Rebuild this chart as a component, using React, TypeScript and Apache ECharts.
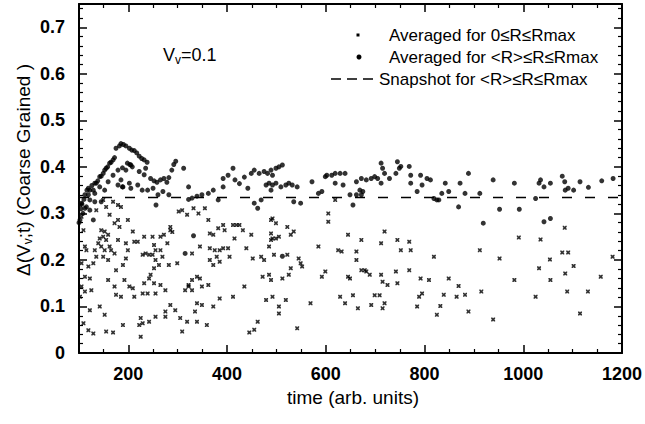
import React, { useEffect, useRef } from "react";
import * as echarts from "echarts";

// Averaged for 0≤R≤Rmax  [time, Δ]
const avgAllPoints: [number, number][] = [
  [102, 0.318], [105, 0.293], [109, 0.264], [112, 0.229], [115, 0.221], [105, 0.193], [119, 0.186],
  [112, 0.164], [122, 0.16], [105, 0.143], [125, 0.135], [102, 0.121], [112, 0.132], [122, 0.092],
  [109, 0.064], [119, 0.049], [129, 0.042], [142, 0.1], [152, 0.082], [155, 0.046], [169, 0.044],
  [189, 0.06], [145, 0.264], [152, 0.261], [142, 0.246], [149, 0.25], [159, 0.254], [155, 0.243],
  [139, 0.236], [145, 0.229], [152, 0.221], [162, 0.229], [165, 0.221], [132, 0.221], [135, 0.207],
  [129, 0.193], [149, 0.207], [159, 0.2], [172, 0.214], [179, 0.243], [182, 0.271], [179, 0.286],
  [162, 0.297], [172, 0.279], [185, 0.314], [199, 0.286], [209, 0.261], [212, 0.239], [219, 0.239],
  [195, 0.236], [199, 0.221], [195, 0.203], [189, 0.189], [175, 0.178], [192, 0.157], [159, 0.157],
  [172, 0.143], [175, 0.125], [185, 0.121], [202, 0.143], [209, 0.139], [212, 0.121], [232, 0.25],
  [249, 0.25], [265, 0.25], [272, 0.254], [252, 0.232], [255, 0.221], [265, 0.221], [229, 0.211],
  [235, 0.214], [242, 0.211], [249, 0.211], [255, 0.2], [262, 0.189], [269, 0.207], [279, 0.236],
  [285, 0.264], [285, 0.271], [289, 0.26], [282, 0.189], [299, 0.193], [252, 0.182], [245, 0.168],
  [242, 0.16], [232, 0.15], [252, 0.15], [265, 0.146], [275, 0.135], [255, 0.128], [239, 0.128],
  [229, 0.128], [225, 0.075], [222, 0.06], [229, 0.064], [242, 0.067], [225, 0.035], [255, 0.078],
  [275, 0.089], [275, 0.078], [285, 0.103], [295, 0.092], [305, 0.075], [309, 0.046], [319, 0.067],
  [335, 0.089], [322, 0.143], [329, 0.157], [339, 0.164], [345, 0.16], [349, 0.143], [362, 0.146],
  [322, 0.146], [315, 0.135], [329, 0.135], [339, 0.107], [349, 0.103], [372, 0.1], [339, 0.067],
  [359, 0.06], [385, 0.117], [412, 0.121], [302, 0.304], [309, 0.307], [319, 0.297], [332, 0.311],
  [342, 0.3], [355, 0.311], [362, 0.286], [365, 0.257], [372, 0.254], [382, 0.268], [392, 0.275],
  [395, 0.264], [412, 0.275], [419, 0.275], [425, 0.275], [432, 0.264], [345, 0.229], [365, 0.225],
  [375, 0.221], [385, 0.221], [392, 0.225], [402, 0.225], [405, 0.207], [379, 0.207], [365, 0.2],
  [385, 0.196], [372, 0.189], [329, 0.214], [415, 0.246], [439, 0.225], [435, 0.143], [445, 0.044],
  [149, 0.329], [169, 0.325], [179, 0.318], [135, 0.307], [155, 0.314], [455, 0.05], [462, 0.067],
  [449, 0.254], [452, 0.203], [469, 0.207], [475, 0.2], [472, 0.164], [485, 0.168], [489, 0.157],
  [479, 0.114], [492, 0.121], [485, 0.229], [489, 0.243], [492, 0.246], [499, 0.246], [505, 0.25],
  [489, 0.257], [489, 0.286], [492, 0.289], [499, 0.279], [495, 0.211], [505, 0.1], [505, 0.085],
  [512, 0.16], [519, 0.114], [522, 0.211], [522, 0.271], [525, 0.168], [529, 0.182], [529, 0.254],
  [535, 0.261], [545, 0.203], [549, 0.193], [552, 0.186], [542, 0.053], [569, 0.107], [585, 0.229],
  [592, 0.164], [599, 0.175], [605, 0.3], [605, 0.282], [625, 0.221], [632, 0.218], [629, 0.121],
  [639, 0.107], [645, 0.164], [649, 0.16], [645, 0.254], [655, 0.124], [662, 0.218], [662, 0.2],
  [672, 0.243], [665, 0.096], [672, 0.178], [679, 0.178], [682, 0.175], [689, 0.168], [692, 0.103],
  [699, 0.124], [709, 0.124], [712, 0.168], [715, 0.153], [719, 0.107], [715, 0.096], [719, 0.261],
  [712, 0.236], [725, 0.146], [742, 0.175], [745, 0.243], [752, 0.221], [769, 0.239], [772, 0.221],
  [769, 0.178], [745, 0.15], [785, 0.1], [789, 0.121], [795, 0.128], [792, 0.16], [809, 0.157],
  [619, 0.329], [819, 0.207], [849, 0.16], [839, 0.125], [832, 0.101], [825, 0.082], [869, 0.144],
  [865, 0.121], [882, 0.125], [889, 0.089], [912, 0.221], [915, 0.132], [939, 0.072], [952, 0.203],
  [982, 0.157], [991, 0.248], [1025, 0.121], [1032, 0.182], [1035, 0.244], [1054, 0.201],
  [1055, 0.157], [1079, 0.216], [1084, 0.269], [1085, 0.171], [1089, 0.132], [1091, 0.216],
  [1102, 0.187], [1115, 0.085], [1131, 0.132], [1157, 0.164], [1181, 0.207],
];

// Averaged for <R>≤R≤Rmax  [time, Δ]
const avgOuterPoints: [number, number][] = [
  [100, 0.28], [102, 0.286], [104, 0.31], [106, 0.32], [108, 0.3], [110, 0.33], [112, 0.34],
  [115, 0.314], [116, 0.35], [119, 0.34], [122, 0.329], [122, 0.35], [126, 0.36], [129, 0.35],
  [132, 0.365], [135, 0.365], [138, 0.37], [142, 0.379], [145, 0.38], [149, 0.386], [152, 0.393],
  [155, 0.397], [158, 0.4], [162, 0.408], [165, 0.41], [169, 0.415], [172, 0.42], [175, 0.44],
  [182, 0.445], [185, 0.45], [190, 0.448], [195, 0.445], [202, 0.44], [207, 0.436], [212, 0.435],
  [217, 0.43], [222, 0.423], [227, 0.418], [232, 0.415], [238, 0.41], [119, 0.354], [132, 0.343],
  [142, 0.357], [152, 0.35], [159, 0.368], [169, 0.382], [179, 0.393], [185, 0.372], [195, 0.393],
  [205, 0.404], [179, 0.361], [189, 0.357], [202, 0.365], [219, 0.361], [105, 0.322], [112, 0.311],
  [132, 0.325], [145, 0.325], [129, 0.286], [122, 0.307], [188, 0.398], [198, 0.408], [203, 0.405],
  [208, 0.4], [222, 0.39], [235, 0.397], [232, 0.383], [245, 0.375], [252, 0.37], [258, 0.367],
  [265, 0.372], [272, 0.375], [278, 0.367], [282, 0.377], [288, 0.393], [292, 0.405], [296, 0.412],
  [312, 0.397], [188, 0.357], [205, 0.354], [228, 0.35], [239, 0.35], [250, 0.354], [260, 0.34],
  [270, 0.347], [282, 0.34], [256, 0.318], [322, 0.357], [322, 0.33], [329, 0.333], [339, 0.337],
  [349, 0.34], [362, 0.343], [372, 0.35], [382, 0.329], [392, 0.357], [392, 0.375], [402, 0.382],
  [412, 0.397], [416, 0.372], [425, 0.364], [435, 0.378], [442, 0.354], [315, 0.214], [332, 0.252],
  [512, 0.208], [449, 0.386], [455, 0.393], [465, 0.386], [475, 0.39], [482, 0.386], [489, 0.393],
  [492, 0.382], [499, 0.397], [505, 0.4], [512, 0.404], [479, 0.361], [485, 0.365], [492, 0.361],
  [499, 0.365], [489, 0.35], [509, 0.357], [519, 0.361], [525, 0.365], [532, 0.361], [542, 0.357],
  [455, 0.322], [462, 0.311], [469, 0.329], [535, 0.325], [549, 0.322], [572, 0.368], [599, 0.379],
  [602, 0.382], [612, 0.382], [619, 0.386], [629, 0.386], [639, 0.386], [619, 0.365], [635, 0.361],
  [592, 0.347], [585, 0.343], [649, 0.34], [655, 0.318], [662, 0.368], [672, 0.375], [669, 0.35],
  [675, 0.347], [682, 0.372], [692, 0.375], [699, 0.379], [705, 0.375], [712, 0.408], [715, 0.397],
  [719, 0.386], [729, 0.375], [745, 0.411], [749, 0.397], [752, 0.401], [742, 0.386], [769, 0.401],
  [772, 0.382], [772, 0.365], [792, 0.382], [795, 0.361], [805, 0.375], [785, 0.347], [712, 0.365],
  [662, 0.34], [672, 0.34], [812, 0.372], [819, 0.332], [825, 0.329], [829, 0.329], [835, 0.343],
  [842, 0.365], [849, 0.347], [869, 0.314], [872, 0.365], [882, 0.343], [889, 0.386], [912, 0.343],
  [919, 0.279], [939, 0.372], [952, 0.309], [982, 0.365], [992, 0.309], [1025, 0.332], [1032, 0.365],
  [1035, 0.372], [1042, 0.357], [1042, 0.282], [1055, 0.365], [1055, 0.289], [1079, 0.38],
  [1084, 0.368], [1085, 0.35], [1091, 0.354], [1102, 0.35], [1115, 0.368], [1132, 0.356],
  [1159, 0.37], [1182, 0.375],
];

// Snapshot for <R>≤R≤Rmax
const snapshotTimes = [100, 1200];
const snapshotValues = [0.334, 0.334];

const legendLabels = [
  "Averaged for 0≤R≤Rmax",
  "Averaged for <R>≤R≤Rmax",
  "Snapshot for <R>≤R≤Rmax",
];

const FONT = "'Liberation Sans', Arial, Helvetica, sans-serif";
const crossSymbol =
  "path://M0 0L3 0L5 2L7 0L10 0L10 3L8 5L10 7L10 10L7 10L5 8L3 10L0 10L0 7L2 5L0 3Z";

export default function App() {
  const ref = useRef<HTMLDivElement>(null);

  useEffect(() => {
    if (!ref.current) return;
    const chart = echarts.init(ref.current, undefined, { renderer: "svg" });
    const axisLine = { show: true, onZero: false, lineStyle: { color: "#000", width: 2 } };
    const xCommon = {
      type: "value" as const,
      min: 100,
      max: 1200,
      splitNumber: 5,
      axisLine,
      axisTick: { show: true, inside: true, length: 8, lineStyle: { color: "#000", width: 1.5 } },
      minorTick: { show: true, splitNumber: 4, length: 4, lineStyle: { color: "#000", width: 1.2 } },
      splitLine: { show: false },
    };
    const yCommon = {
      type: "value" as const,
      min: 0,
      max: 0.75,
      interval: 0.1,
      axisLine,
      axisTick: { show: true, inside: true, length: 8, lineStyle: { color: "#000", width: 1.5 } },
      minorTick: { show: true, splitNumber: 5, length: 4, lineStyle: { color: "#000", width: 1.2 } },
      splitLine: { show: false },
    };
    const labelStyle = { color: "#000", fontSize: 18, fontFamily: FONT, fontWeight: "bold" as const };

    chart.setOption({
      animation: false,
      backgroundColor: "#fff",
      grid: { left: 79, right: 17, top: 4, bottom: 71, containLabel: false },
      xAxis: [
        {
          ...xCommon,
          position: "bottom",
          axisLabel: {
            ...labelStyle,
            margin: 12,
            formatter: (v: number) => (v === 100 ? "" : String(v)),
          },
        },
        { ...xCommon, position: "top", axisLabel: { show: false } },
      ],
      yAxis: [
        {
          ...yCommon,
          position: "left",
          axisLabel: {
            ...labelStyle,
            margin: 14,
            formatter: (v: number) => (Math.abs(v - 0.75) < 1e-9 ? "" : String(+v.toFixed(2))),
          },
        },
        { ...yCommon, position: "right", axisLabel: { show: false } },
      ],
      series: [
        {
          name: legendLabels[0],
          type: "scatter",
          data: avgAllPoints,
          symbol: crossSymbol,
          symbolSize: 4,
          itemStyle: { color: "#000" },
        },
        {
          name: legendLabels[1],
          type: "scatter",
          data: avgOuterPoints,
          symbol: "circle",
          symbolSize: 5,
          itemStyle: { color: "#000" },
        },
        {
          name: legendLabels[2],
          type: "line",
          data: snapshotTimes.map((t, i) => [t, snapshotValues[i]]),
          showSymbol: false,
          symbol: "none",
          lineStyle: { color: "#000", width: 1.5, type: [10, 13] },
        },
      ],
      graphic: [
        // legend
        {
          type: "rect",
          shape: { x: 356.5, y: 33.5, width: 3, height: 3 },
          style: { fill: "#000" },
        },
        {
          type: "text",
          x: 389,
          y: 35,
          style: { text: legendLabels[0], fontSize: 17, fontFamily: FONT, fill: "#000", verticalAlign: "middle" },
        },
        { type: "circle", shape: { cx: 359, cy: 57, r: 2.5 }, style: { fill: "#000" } },
        {
          type: "text",
          x: 389,
          y: 57,
          style: { text: legendLabels[1], fontSize: 17, fontFamily: FONT, fill: "#000", verticalAlign: "middle" },
        },
        {
          type: "line",
          shape: { x1: 331, y1: 79, x2: 373, y2: 79 },
          style: { stroke: "#000", lineWidth: 1.5, lineDash: [10, 6] },
        },
        {
          type: "text",
          x: 379,
          y: 79,
          style: { text: legendLabels[2], fontSize: 17, fontFamily: FONT, fill: "#000", verticalAlign: "middle" },
        },
        // V_v = 0.1
        {
          type: "text",
          x: 163,
          y: 55,
          style: {
            text: "V{s|v}=0.1",
            fontSize: 18,
            fontFamily: FONT,
            fill: "#000",
            verticalAlign: "middle",
            rich: { s: { fontSize: 12, fontFamily: FONT, fill: "#000", padding: [10, 0, 0, 0] } },
          },
        },
        // axis titles
        {
          type: "text",
          x: 353,
          y: 397,
          style: {
            text: "time (arb. units)",
            fontSize: 19,
            fontFamily: FONT,
            fill: "#000",
            align: "center",
            verticalAlign: "middle",
          },
        },
        {
          type: "text",
          x: 23,
          y: 170,
          rotation: Math.PI / 2,
          style: {
            text: "Δ(V{s|v};t) (Coarse Grained )",
            fontSize: 19,
            fontFamily: FONT,
            fill: "#000",
            align: "center",
            verticalAlign: "middle",
            rich: { s: { fontSize: 12, fontFamily: FONT, fill: "#000", padding: [10, 0, 0, 0] } },
          },
        },
      ],
    });
    return () => chart.dispose();
  }, []);

  return (
    <div
      ref={ref}
      style={{ position: "absolute", left: 0, top: 0, width: 645, height: 424, background: "#fff" }}
    />
  );
}
